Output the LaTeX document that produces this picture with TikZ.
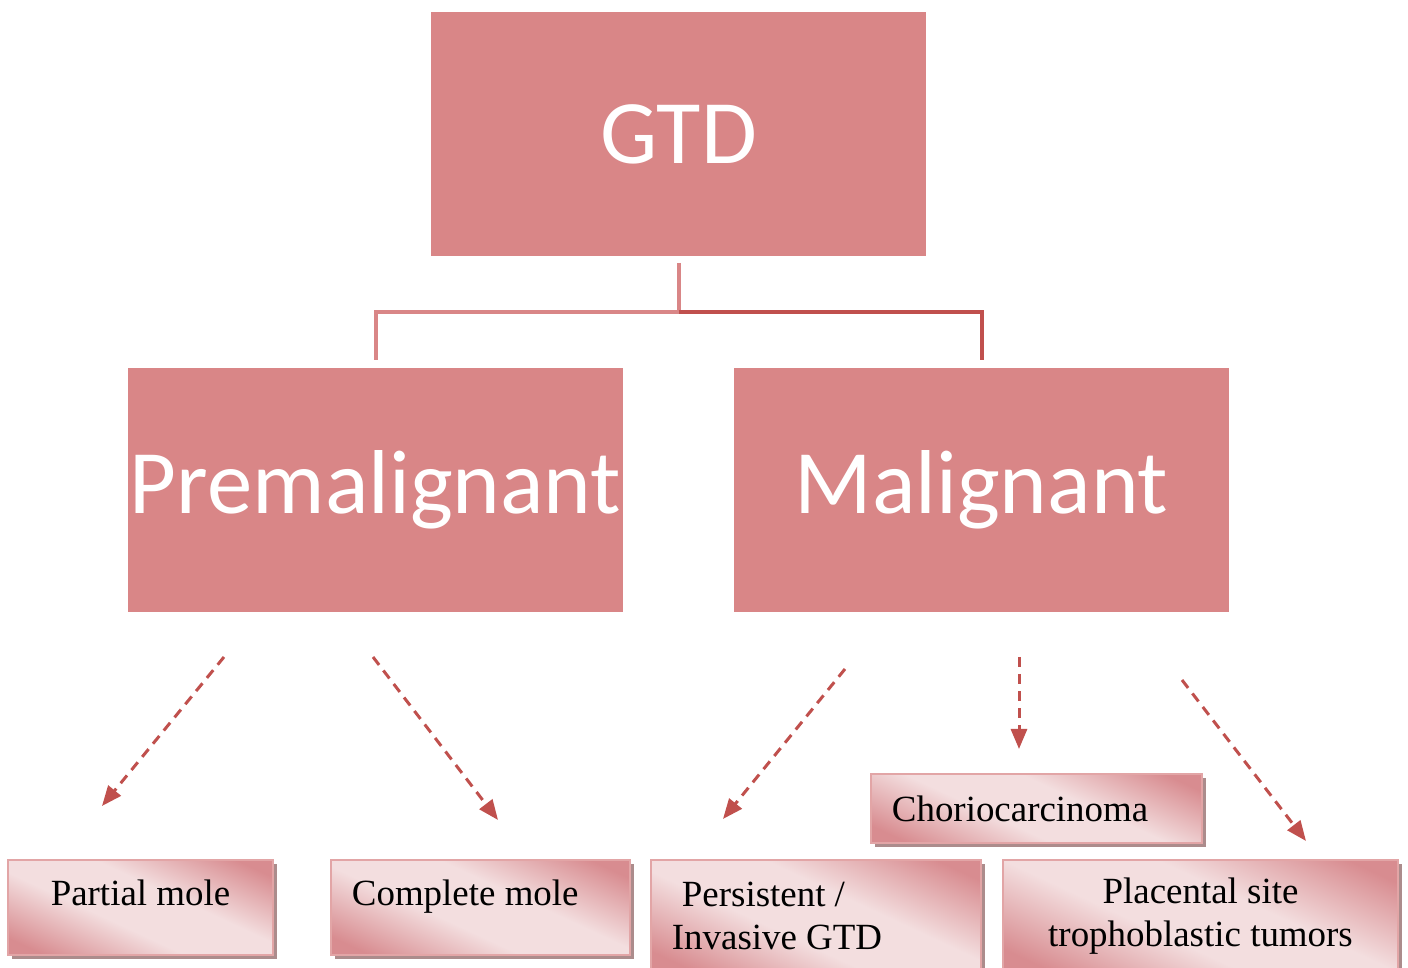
\documentclass[tikz,border=0pt]{standalone}
\usepackage{fontspec}
\setmainfont{Liberation Serif}
\newfontfamily\headfont{Carlito}
\usetikzlibrary{arrows.meta,positioning,shadows}
\definecolor{rose}{RGB}{217,134,135}
\definecolor{brick}{RGB}{192,80,77}
\definecolor{blush}{RGB}{243,222,223}
\definecolor{blushdark}{RGB}{216,140,144}
\definecolor{blushedge}{RGB}{226,165,166}
\definecolor{shadowrose}{RGB}{172,140,140}
\pgfdeclarehorizontalshading{leafshade}{100bp}{color(0bp)=(blushdark); color(22bp)=(blushdark); color(42bp)=(blush); color(58bp)=(blush); color(78bp)=(blushdark); color(100bp)=(blushdark)}
\tikzset{
  headbox/.style={fill=rose,text=white,font=\headfont\fontsize{25.8}{31}\selectfont,
    minimum width=4.95cm,minimum height=2.44cm,inner sep=0pt},
  leafbox/.style={draw=blushedge,line width=0.02cm,shading=leafshade,shading angle=65,
    drop shadow={shadow xshift=0.04cm,shadow yshift=-0.04cm,fill=shadowrose,opacity=1},
    font=\fontsize{10.5}{12.3}\selectfont,inner sep=0pt},
  leftleaf/.style={leafbox,align=flush left,inner xsep=0.21cm},
  stem/.style={line width=0.04cm},
  fork/.style={brick,line width=0.03cm,dash pattern=on 0.1cm off 0.07cm,
    -{Triangle[length=0.2cm,width=0.16cm]}}
}
\begin{document}
\begin{tikzpicture}[x=0.01cm,y=-0.01cm]
  \useasboundingbox (0,0) rectangle (1408,968);
  % top level
  \node[headbox] (gtd) at (678.5,134) {GTD};
  \node[headbox] (pre) at (375.5,490) {Premalignant};
  \node[headbox] (mal) at (981.5,490) {Malignant};
  \coordinate (split) at (678.5,312);
  \draw[stem,rose] ([yshift=-0.06cm]gtd.south) -- (split) -| ([yshift=0.07cm]pre.north);
  \draw[stem,brick] (split) -| ([yshift=0.07cm]mal.north);
  % leaves
  \node[leafbox,minimum width=2.65cm,minimum height=0.95cm,text depth=0.3cm] (partial) at (140.5,907.5) {Partial mole};
  \node[leftleaf,text width=2.57cm,minimum height=0.95cm,text depth=0.3cm] (complete) at (480.5,907.5) {Complete mole};
  \node[leftleaf,text width=2.88cm,minimum height=1.12cm] (persist) at (816,916) {\hspace*{0.1cm}Persistent /\\Invasive GTD};
  \node[leafbox,align=center,minimum width=3.95cm,minimum height=1.12cm] (placental) at (1200.5,916) {Placental site\\trophoblastic tumors};
  \node[leftleaf,text width=2.89cm,minimum height=0.69cm] (chorio) at (1036.5,808.5) {Choriocarcinoma};
  % dashed arrows
  \foreach \name/\sx/\sy/\ex/\ey in {partial/224/657/102/806, complete/373/657/498/820,
      persist/845/669/723/819, chorio/1019/657/1019/749, placental/1182/680/1306/841} {
    \coordinate (\name-from) at (\sx,\sy);
    \coordinate (\name-to) at (\ex,\ey);
    \draw[fork] (\name-from) -- (\name-to);
  }
\end{tikzpicture}
\end{document}
